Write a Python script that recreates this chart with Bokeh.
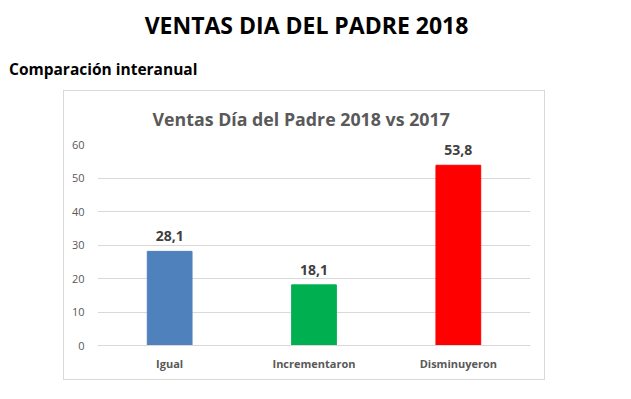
from bokeh.plotting import figure
from bokeh.models import ColumnDataSource, FixedTicker, Div, Title
from bokeh.layouts import column
from bokeh.core.properties import value
from bokeh.embed import file_html
from bokeh.resources import INLINE

categories = ["Igual", "Incrementaron", "Disminuyeron"]
values = [28.1, 18.1, 53.8]
colors = ["#4f81bd", "#00b050", "#ff0000"]
y_ticks = [0, 10, 20, 30, 40, 50, 60]
labels = [f"{v:.1f}".replace(".", ",") for v in values]

FONT = "Open Sans"
GRAY = "#595959"

src = ColumnDataSource(dict(cat=categories, val=values, color=colors, lab=labels))

p = figure(x_range=categories, y_range=(0, 60), width=482, height=290,
           output_backend="svg", toolbar_location=None, title=None,
           min_border_left=33, min_border_right=16, min_border_top=52,
           min_border_bottom=36, margin=(0, 0, 0, 63),
           styles={"border": "1px solid #d9d9d9"})
p.outline_line_color = None
p.background_fill_color = "white"
p.border_fill_color = "white"

p.vbar(x="cat", top="val", width=0.31, color="color", source=src)
p.text(x="cat", y="val", text="lab", source=src, y_offset=-10,
       text_align="center", text_baseline="bottom",
       text_font=value(FONT), text_font_style="bold",
       text_font_size="14px", text_color="#404040")

p.xgrid.grid_line_color = None
p.ygrid.grid_line_color = "#d9d9d9"
p.ygrid.grid_line_width = 1

p.yaxis.ticker = FixedTicker(ticks=y_ticks)
p.yaxis.axis_line_color = None
p.yaxis.major_tick_line_color = None
p.yaxis.minor_tick_line_color = None
p.yaxis.major_label_standoff = 7
p.yaxis.major_label_text_font = FONT
p.yaxis.major_label_text_font_size = "11px"
p.yaxis.major_label_text_color = GRAY

p.xaxis.axis_line_color = "#d9d9d9"
p.xaxis.major_tick_line_color = None
p.xaxis.minor_tick_line_color = None
p.xaxis.major_label_standoff = 4
p.xaxis.major_label_text_font = FONT
p.xaxis.major_label_text_font_style = "bold"
p.xaxis.major_label_text_font_size = "11px"
p.xaxis.major_label_text_color = GRAY

p.add_layout(Title(text="Ventas Día del Padre 2018 vs 2017", align="left",
                   offset=55, standoff=27, text_font=FONT,
                   text_font_style="bold", text_font_size="17.8px",
                   text_color=GRAY), "above")

d1 = Div(text="VENTAS DIA DEL PADRE 2018", width=603, height=40,
         styles={"font-family": "Open Sans", "font-weight": "bold",
                 "font-size": "23px", "text-align": "center",
                 "line-height": "40px", "color": "black"})
d2 = Div(text="Comparación interanual", width=615, height=30,
         styles={"font-family": "Open Sans", "font-weight": "bold",
                 "font-size": "15.5px", "text-align": "left",
                 "line-height": "28px", "padding-left": "4px",
                 "color": "black"})

layout = column(d1, d2, p, spacing=0)

open("out.html", "w").write(file_html(layout, INLINE))
